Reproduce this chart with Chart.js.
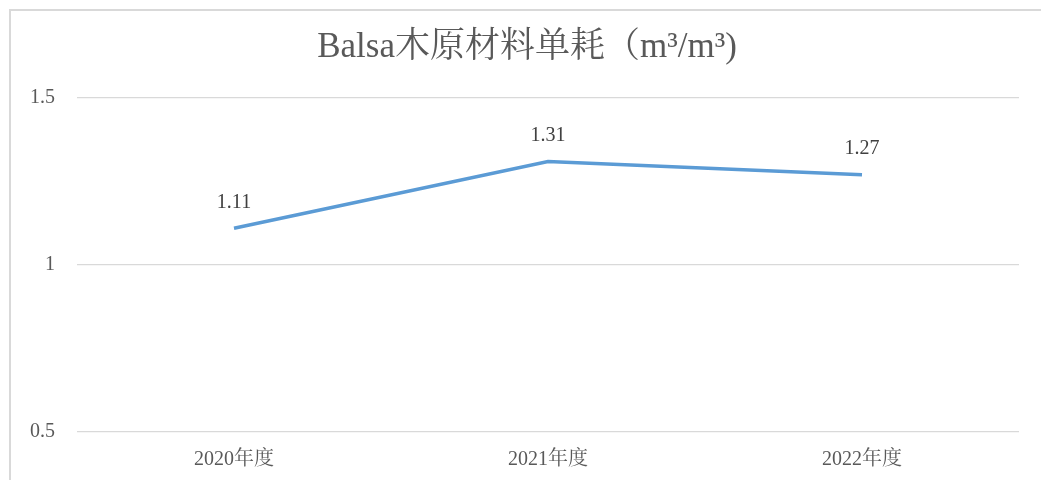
<!DOCTYPE html>
<html lang="zh">
<head>
<meta charset="UTF-8">
<script src="https://cdn.jsdelivr.net/npm/chart.js"></script>
<style>
  html, body { margin: 0; padding: 0; background: #fff; overflow: hidden; }
  #frame { position: absolute; left: 9px; top: 9px; width: 1100px; height: 600px; border: 2px solid #d9d9d9; }
  #wrap { position: absolute; left: 0; top: 0; width: 1041px; height: 480px; }
</style>
</head>
<body>
<div id="frame"></div>
<div id="wrap"><canvas id="myChart"></canvas></div>
<script>
// data
const titleText = 'Balsa木原材料单耗（m³/m³)'
const years = ['2020年度', '2021年度', '2022年度']
const usage = [1.11, 1.31, 1.27]
const yTicks = [0.5, 1, 1.5]

const serif = "'Liberation Serif', 'Noto Serif CJK SC', 'Noto Sans CJK SC', serif"

// title + value labels drawn by hand
const extras = {
  id: 'extras',
  afterDatasetsDraw(chart) {
    const ctx = chart.ctx
    ctx.save()
    ctx.fillStyle = '#595959'
    ctx.font = '35px ' + serif
    ctx.textAlign = 'center'
    ctx.textBaseline = 'middle'
    ctx.fillText(titleText, 527, 48)

    ctx.fillStyle = '#404040'
    ctx.font = '20px ' + serif
    const meta = chart.getDatasetMeta(0)
    meta.data.forEach((pt, i) => {
      ctx.fillText(String(usage[i]), pt.x, pt.y - 26)
    })
    ctx.restore()
  }
}

new Chart(document.getElementById('myChart'), {
  type: 'line',
  data: {
    labels: years,
    datasets: [{
      data: usage,
      borderColor: '#5b9bd5',
      borderWidth: 3.5,
      pointRadius: 0,
      tension: 0,
      fill: false
    }]
  },
  options: {
    responsive: true,
    maintainAspectRatio: false,
    animation: false,
    layout: { padding: { top: 98, right: 22, left: 0, bottom: 0 } },
    plugins: {
      legend: { display: false },
      title: { display: false },
      tooltip: { enabled: false }
    },
    scales: {
      x: {
        offset: true,
        grid: { display: false, drawTicks: false },
        border: { display: false },
        ticks: { color: '#595959', font: { family: serif, size: 20 }, padding: 16 },
        afterFit(scale) { scale.height = 48 }
      },
      y: {
        min: 0.5,
        max: 1.5,
        afterBuildTicks(scale) { scale.ticks = yTicks.map(v => ({ value: v })) },
        grid: { color: '#d9d9d9', lineWidth: 1.3, drawTicks: false },
        border: { display: false },
        ticks: {
          color: '#595959',
          font: { family: serif, size: 20 },
          padding: 22,
          callback: v => String(v)
        },
        afterFit(scale) { scale.width = 77 }
      }
    }
  },
  plugins: [extras]
})
</script>
</body>
</html>
